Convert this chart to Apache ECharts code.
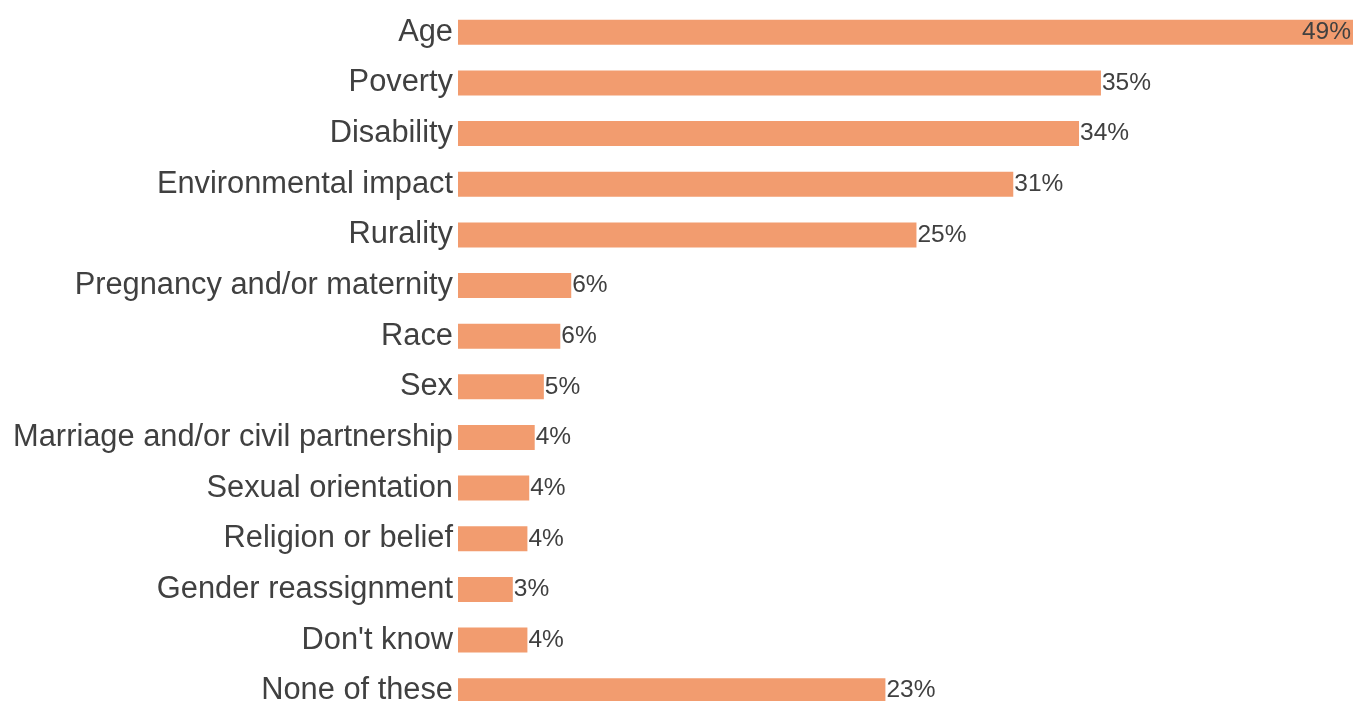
<!DOCTYPE html>
<html><head><meta charset="utf-8">
<script src="https://cdn.jsdelivr.net/npm/echarts@6/dist/echarts.min.js"></script>
<style>html,body{margin:0;padding:0;background:#fff;overflow:hidden}#c{width:1365px;height:701px}</style>
</head><body><div id="c"></div>
<script>
const categories = ["Age","Poverty","Disability","Environmental impact","Rurality","Pregnancy and/or maternity","Race","Sex","Marriage and/or civil partnership","Sexual orientation","Religion or belief","Gender reassignment","Don't know","None of these"];
const values = [49.0,35.2,34.0,30.4,25.1,6.2,5.6,4.7,4.2,3.9,3.8,3.0,3.8,23.4];
const labels = ["49%","35%","34%","31%","25%","6%","6%","5%","4%","4%","4%","3%","4%","23%"];

const FONT = "Liberation Sans";
const chart = echarts.init(document.getElementById('c'));
const data = values.map((v,i)=>{
  const d = {value:v};
  if (i===0) d.label = {position:'insideRight', distance:2};
  return d;
});
chart.setOption({
  animation:false,
  textStyle:{fontFamily:FONT},
  grid:{left:458, top:7, right:12, bottom:-15, containLabel:false, outerBoundsMode:'none'},
  xAxis:{type:'value', min:0, max:49, show:false},
  yAxis:{type:'category', data:categories, inverse:true,
    axisLine:{show:false}, axisTick:{show:false},
    axisLabel:{fontFamily:FONT, fontSize:30.8, color:'#404040', margin:5}},
  series:[{type:'bar', data:data, barWidth:25, itemStyle:{color:'#F29C6F'},
    label:{show:true, position:'right', distance:1, fontFamily:FONT, fontSize:24.5, color:'#404040',
      formatter:p=>labels[p.dataIndex]}}]
});
</script></body></html>
